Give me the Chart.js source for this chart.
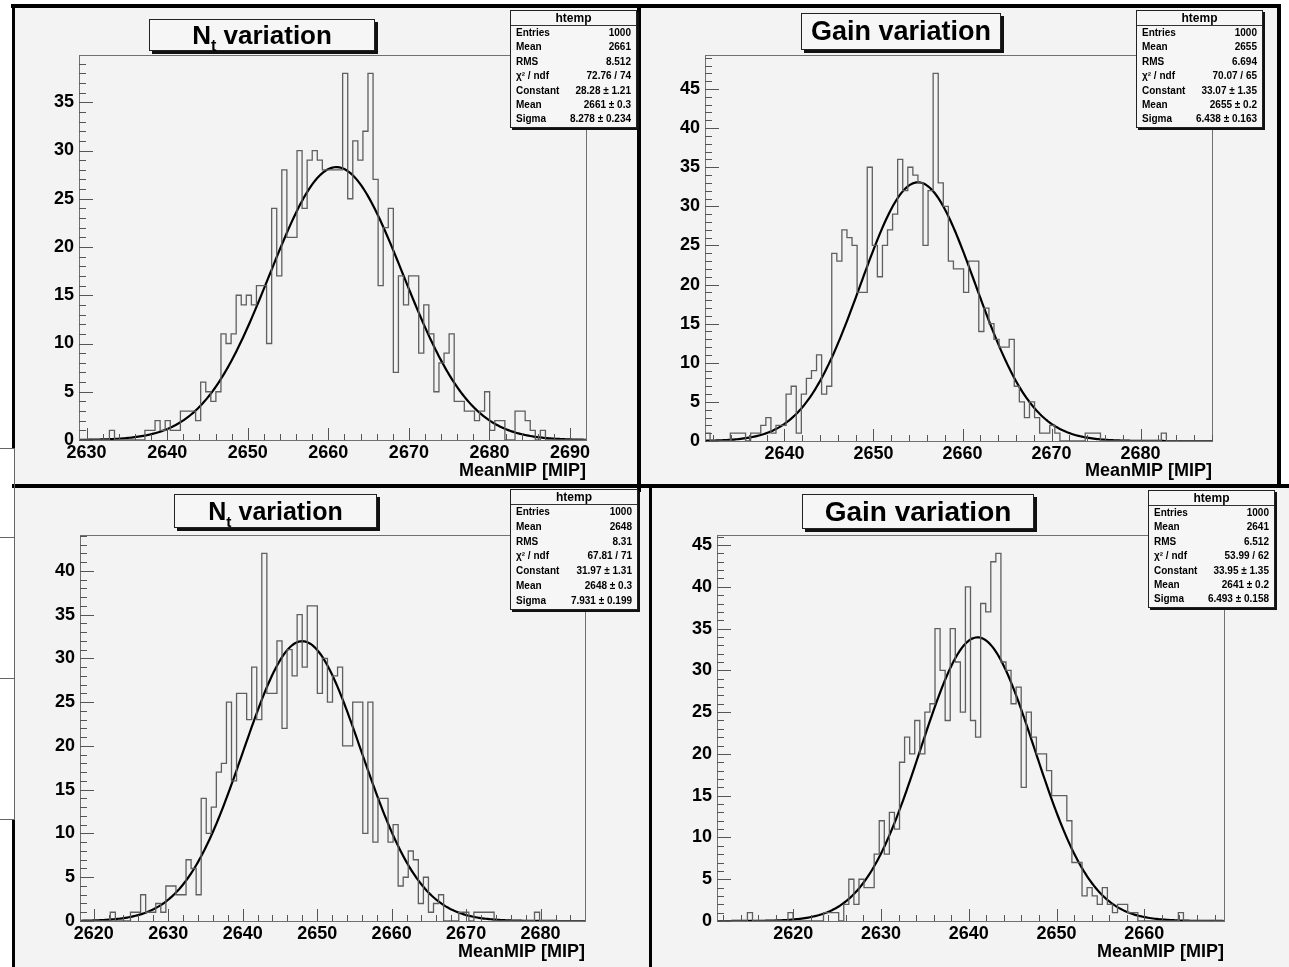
<!DOCTYPE html>
<html>
<head>
<meta charset="utf-8">
<title>MeanMIP distributions</title>
<script src="https://cdn.jsdelivr.net/npm/chart.js@4.4.1/dist/chart.umd.min.js"></script>
<style>
  html, body { margin: 0; padding: 0; background: #fff; }
  #page { position: relative; width: 1289px; height: 967px; overflow: hidden; background: #fff;
          font-family: 'Liberation Sans', Arial, sans-serif; }
  .pad { position: absolute; background: #f3f3f3; }
  .pad canvas { position: absolute; left: 0; top: 0; }
  .bar { position: absolute; background: #000; }
  .rule { position: absolute; background: #666; }
  .title { position: absolute; box-sizing: border-box; border: 1px solid #222; background: #f6f6f6;
           box-shadow: 3px 3px 0 #111; font-weight: bold; color: #000; display: flex;
           align-items: center; justify-content: center; white-space: nowrap; }
  .title span { display: inline-block; line-height: 1; }
  .title sub { font-size: 0.62em; vertical-align: -0.45em; line-height: 0; }
  .stats { position: absolute; box-sizing: border-box; border: 1px solid #222; background: #f6f6f6;
           box-shadow: 2px 2px 0 #111; font-weight: bold; font-size: 10px; color: #000; }
  .stats .head { text-align: center; font-size: 12px; height: 14px; line-height: 14px; border-bottom: 1px solid #333; }
  .stats .row { display: flex; justify-content: space-between; padding: 0 5px 0 5px; }
</style>
</head>
<body>
<div id="page"></div>
<script>
// MeanMIP for 1000 toys, 100 bins per histogram, gaussian fit on top

const countsNtTop = [
  1, 0, 0, 0, 0, 0, 0, 1, 0, 0,
  0, 0, 0, 0, 1, 1, 2, 1, 2, 1,
  1, 3, 3, 3, 2, 6, 5, 4, 5, 11,
  10, 11, 15, 14, 15, 14, 16, 16, 10, 24,
  17, 28, 21, 21, 30, 24, 29, 30, 29, 28,
  28, 28, 28, 38, 25, 31, 29, 32, 38, 27,
  16, 22, 24, 7, 17, 14, 17, 17, 9, 14,
  11, 5, 8, 9, 11, 4, 4, 3, 3, 2,
  3, 5, 1, 2, 2, 0, 0, 3, 3, 2,
  1, 0, 1, 0, 0, 0, 0, 0, 0, 0
];
const rangeNtTop = [2629.06, 2691.98];
const yRangeNtTop = [0, 39.9];
const fitNtTop = [28.28, 2661, 8.278];          // constant, mean, sigma
const xLabelsNtTop = [2630, 2640, 2650, 2660, 2670, 2680, 2690];
const yLabelsNtTop = [0, 5, 10, 15, 20, 25, 30, 35];
const statsNtTop = [['Entries', '1000'], ['Mean', '2661'], ['RMS', '8.512'], ['χ² / ndf', '72.76 / 74'],
  ['Constant', '28.28 ± 1.21'], ['Mean', '2661 ± 0.3'], ['Sigma', '8.278 ± 0.234']];

const countsGainTop = [
  1, 1, 0, 0, 0, 0, 1, 1, 1, 0,
  1, 1, 2, 3, 1, 2, 2, 6, 7, 1,
  6, 8, 9, 11, 6, 7, 24, 23, 27, 26,
  25, 19, 19, 35, 25, 21, 25, 27, 29, 36,
  32, 35, 34, 33, 25, 32, 47, 33, 30, 23,
  22, 22, 19, 23, 23, 14, 17, 15, 13, 12,
  12, 13, 7, 5, 3, 5, 3, 1, 1, 2,
  1, 0, 0, 0, 0, 0, 1, 1, 1, 0,
  0, 0, 0, 0, 0, 0, 0, 0, 0, 0,
  0, 1, 0, 0, 0, 0, 0, 0, 0, 0
];
const rangeGainTop = [2631.07, 2688.03];
const yRangeGainTop = [0, 49.35];
const fitGainTop = [33.07, 2655, 6.438];
const xLabelsGainTop = [2640, 2650, 2660, 2670, 2680];
const yLabelsGainTop = [0, 5, 10, 15, 20, 25, 30, 35, 40, 45];
const statsGainTop = [['Entries', '1000'], ['Mean', '2655'], ['RMS', '6.694'], ['χ² / ndf', '70.07 / 65'],
  ['Constant', '33.07 ± 1.35'], ['Mean', '2655 ± 0.2'], ['Sigma', '6.438 ± 0.163']];

const countsNtBottom = [
  0, 0, 0, 0, 0, 0, 0, 1, 0, 0,
  0, 1, 1, 3, 1, 1, 2, 1, 4, 4,
  3, 3, 7, 6, 3, 14, 10, 13, 17, 18,
  25, 16, 26, 26, 23, 29, 23, 42, 26, 26,
  32, 22, 31, 28, 35, 29, 36, 36, 26, 30,
  25, 28, 29, 20, 20, 25, 25, 10, 25, 9,
  14, 14, 9, 11, 4, 5, 8, 7, 2, 5,
  1, 2, 3, 0, 0, 0, 1, 1, 0, 1,
  1, 1, 1, 0, 0, 0, 0, 0, 0, 0,
  0, 1, 0, 0, 0, 0, 0, 0, 0, 0
];
const rangeNtBottom = [2618.16, 2685.96];
const yRangeNtBottom = [0, 44.1];
const fitNtBottom = [31.97, 2648, 7.931];
const xLabelsNtBottom = [2620, 2630, 2640, 2650, 2660, 2670, 2680];
const yLabelsNtBottom = [0, 5, 10, 15, 20, 25, 30, 35, 40];
const statsNtBottom = [['Entries', '1000'], ['Mean', '2648'], ['RMS', '8.31'], ['χ² / ndf', '67.81 / 71'],
  ['Constant', '31.97 ± 1.31'], ['Mean', '2648 ± 0.3'], ['Sigma', '7.931 ± 0.199']];

const countsGainBottom = [
  0, 0, 0, 0, 0, 0, 0, 1, 0, 0,
  0, 0, 0, 0, 0, 1, 0, 0, 0, 0,
  0, 0, 1, 1, 1, 0, 2, 5, 2, 5,
  4, 4, 8, 12, 8, 13, 11, 19, 22, 20,
  24, 20, 25, 26, 35, 30, 24, 35, 31, 25,
  40, 24, 22, 38, 37, 43, 44, 31, 30, 26,
  28, 16, 25, 22, 20, 20, 18, 15, 15, 15,
  12, 7, 7, 3, 4, 3, 2, 4, 2, 1,
  2, 2, 1, 1, 0, 0, 0, 0, 0, 0,
  0, 0, 1, 0, 0, 0, 0, 0, 0, 0
];
const rangeGainBottom = [2611.31, 2669.08];
const yRangeGainBottom = [0, 46.2];
const fitGainBottom = [33.95, 2641, 6.493];
const xLabelsGainBottom = [2620, 2630, 2640, 2650, 2660];
const yLabelsGainBottom = [0, 5, 10, 15, 20, 25, 30, 35, 40, 45];
const statsGainBottom = [['Entries', '1000'], ['Mean', '2641'], ['RMS', '6.512'], ['χ² / ndf', '53.99 / 62'],
  ['Constant', '33.95 ± 1.35'], ['Mean', '2641 ± 0.2'], ['Sigma', '6.493 ± 0.158']];

const axisTitle = 'MeanMIP [MIP]';
const statsHeader = 'htemp';

// pad geometry: box = [x, y, w, h] of the grey pad, frame = [left, top, right, bottom] of the plot frame
const panels = [
  { box: [15, 8, 622, 476], frame: [79, 55, 586, 440], axisTitleY: 471.5,
    counts: countsNtTop, range: rangeNtTop, yRange: yRangeNtTop, fit: fitNtTop,
    xLabels: xLabelsNtTop, yLabels: yLabelsNtTop, stats: statsNtTop,
    title: 'N<sub>t</sub> variation', titleBox: [149, 19, 226, 32], titleSize: 26,
    statsBox: [510, 10, 127], rowH: 14.4 },
  { box: [641, 8, 636, 476], frame: [705, 55, 1212, 441], axisTitleY: 471.5,
    counts: countsGainTop, range: rangeGainTop, yRange: yRangeGainTop, fit: fitGainTop,
    xLabels: xLabelsGainTop, yLabels: yLabelsGainTop, stats: statsGainTop,
    title: 'Gain variation', titleBox: [801, 13, 200, 37], titleSize: 27,
    statsBox: [1136, 10, 127], rowH: 14.4 },
  { box: [15, 488, 634, 479], frame: [80, 535, 585, 921], axisTitleY: 952,
    counts: countsNtBottom, range: rangeNtBottom, yRange: yRangeNtBottom, fit: fitNtBottom,
    xLabels: xLabelsNtBottom, yLabels: yLabelsNtBottom, stats: statsNtBottom,
    title: 'N<sub>t</sub> variation', titleBox: [174, 494, 203, 34], titleSize: 25,
    statsBox: [510, 489, 128], rowH: 14.8 },
  { box: [652, 488, 637, 479], frame: [717, 535, 1224, 921], axisTitleY: 952,
    counts: countsGainBottom, range: rangeGainBottom, yRange: yRangeGainBottom, fit: fitGainBottom,
    xLabels: xLabelsGainBottom, yLabels: yLabelsGainBottom, stats: statsGainBottom,
    title: 'Gain variation', titleBox: [802, 494, 232, 35], titleSize: 28,
    statsBox: [1148, 490, 127], rowH: 14.4 }
];

// black pad borders and the table edges peeking in on the left
const borders = [
  [11, 4, 1270, 4], [12, 4, 3, 444], [637, 4, 4, 488], [1277, 4, 4, 484],
  [12, 484, 1277, 4], [649, 487, 3, 480], [12, 819, 3, 148]
];
const tableRules = [
  [0, 448, 15, 1], [0, 537, 15, 1], [0, 678, 15, 1], [0, 819, 15, 1], [14, 448, 1, 371]
];

const page = document.getElementById('page');
const tickFont = { family: "'Liberation Sans', Arial, sans-serif", size: 18, weight: 'bold', lineHeight: 1.2 };

function histogramOutline(counts, range) {
  const w = (range[1] - range[0]) / counts.length;
  const pts = [{ x: range[0], y: 0 }];
  counts.forEach(function (c, i) { pts.push({ x: range[0] + i * w, y: c }); });
  pts.push({ x: range[1], y: 0 });
  return pts;
}

function gaussCurve(fit, range) {
  const pts = [];
  const n = 300;
  for (let i = 0; i <= n; i++) {
    const x = range[0] + (range[1] - range[0]) * i / n;
    const z = (x - fit[1]) / fit[2];
    pts.push({ x: x, y: fit[0] * Math.exp(-0.5 * z * z) });
  }
  return pts;
}

// frame box plus ROOT-style inward tick marks
const padTicks = {
  id: 'padTicks',
  afterDatasetsDraw(chart) {
    const ctx = chart.ctx;
    const a = chart.chartArea;
    const x = chart.scales.x;
    const y = chart.scales.y;
    ctx.save();
    ctx.strokeStyle = '#707070';
    ctx.lineWidth = 1;
    ctx.strokeRect(Math.round(a.left) + 0.5, Math.round(a.top) + 0.5,
      Math.round(a.right - a.left), Math.round(a.bottom - a.top));
    ctx.strokeStyle = '#555';
    ctx.beginPath();
    for (let v = Math.ceil(y.min); v <= y.max; v++) {
      const py = Math.round(y.getPixelForValue(v)) + 0.5;
      const len = v % 5 === 0 ? 14 : 7;
      ctx.moveTo(a.left, py);
      ctx.lineTo(a.left + len, py);
    }
    for (let v = Math.ceil(x.min / 2) * 2; v <= x.max; v += 2) {
      const px = Math.round(x.getPixelForValue(v)) + 0.5;
      const len = v % 10 === 0 ? 12 : 6;
      ctx.moveTo(px, a.bottom);
      ctx.lineTo(px, a.bottom - len);
    }
    ctx.stroke();
    ctx.restore();
  }
};

function addBlock(cls, r) {
  const d = document.createElement('div');
  d.className = cls;
  d.style.left = r[0] + 'px';
  d.style.top = r[1] + 'px';
  d.style.width = r[2] + 'px';
  d.style.height = r[3] + 'px';
  page.appendChild(d);
  return d;
}

panels.forEach(function (p) {
  const pad = addBlock('pad', p.box);
  const canvas = document.createElement('canvas');
  canvas.width = p.box[2];
  canvas.height = p.box[3];
  canvas.style.width = p.box[2] + 'px';
  canvas.style.height = p.box[3] + 'px';
  pad.appendChild(canvas);

  const yWidth = p.frame[0] - p.box[0];
  const xHeight = p.box[1] + p.box[3] - p.frame[3];
  const titlePadBottom = p.box[1] + p.box[3] - p.axisTitleY - tickFont.size * 1.2 / 2;

  new Chart(canvas.getContext('2d'), {
    type: 'line',
    data: {
      datasets: [{
        data: histogramOutline(p.counts, p.range),
        stepped: 'after',
        borderColor: '#5f5f5f',
        borderWidth: 1.3,
        pointRadius: 0,
        fill: false
      }, {
        data: gaussCurve(p.fit, p.range),
        borderColor: '#000',
        borderWidth: 2.2,
        pointRadius: 0,
        fill: false,
        tension: 0
      }]
    },
    options: {
      responsive: false,
      animation: false,
      devicePixelRatio: 1,
      layout: { padding: { left: 0, top: p.frame[1] - p.box[1], right: p.box[0] + p.box[2] - p.frame[2], bottom: 0 } },
      plugins: { legend: { display: false }, tooltip: { enabled: false } },
      scales: {
        x: {
          type: 'linear',
          min: p.range[0],
          max: p.range[1],
          grid: { display: false, drawTicks: false },
          border: { display: false },
          afterBuildTicks: function (s) { s.ticks = p.xLabels.map(function (v) { return { value: v }; }); },
          ticks: { autoSkip: false, maxRotation: 0, color: '#000', font: tickFont, padding: 2,
                   callback: function (v) { return String(v); } },
          title: { display: true, text: axisTitle, align: 'end', color: '#000', font: tickFont,
                   padding: { top: 0, bottom: titlePadBottom } },
          afterFit: function (s) { s.height = xHeight; s.paddingLeft = 0; s.paddingRight = 0; }
        },
        y: {
          type: 'linear',
          min: p.yRange[0],
          max: p.yRange[1],
          grid: { display: false, drawTicks: false },
          border: { display: false },
          afterBuildTicks: function (s) { s.ticks = p.yLabels.map(function (v) { return { value: v }; }); },
          ticks: { color: '#000', font: tickFont, padding: 5,
                   callback: function (v) { return String(v); } },
          afterFit: function (s) { s.width = yWidth; }
        }
      }
    },
    plugins: [padTicks]
  });
});

borders.forEach(function (r) { addBlock('bar', r); });
tableRules.forEach(function (r) { addBlock('rule', r); });

panels.forEach(function (p) {
  const t = addBlock('title', p.titleBox);
  t.style.fontSize = p.titleSize + 'px';
  const label = document.createElement('span');
  label.innerHTML = p.title;
  t.appendChild(label);

  const s = document.createElement('div');
  s.className = 'stats';
  s.style.left = p.statsBox[0] + 'px';
  s.style.top = p.statsBox[1] + 'px';
  s.style.width = p.statsBox[2] + 'px';
  const head = document.createElement('div');
  head.className = 'head';
  head.textContent = statsHeader;
  s.appendChild(head);
  p.stats.forEach(function (row) {
    const r = document.createElement('div');
    r.className = 'row';
    r.style.height = p.rowH + 'px';
    r.style.lineHeight = p.rowH + 'px';
    const k = document.createElement('span');
    k.textContent = row[0];
    const v = document.createElement('span');
    v.textContent = row[1];
    r.appendChild(k);
    r.appendChild(v);
    s.appendChild(r);
  });
  page.appendChild(s);
});
</script>
</body>
</html>
